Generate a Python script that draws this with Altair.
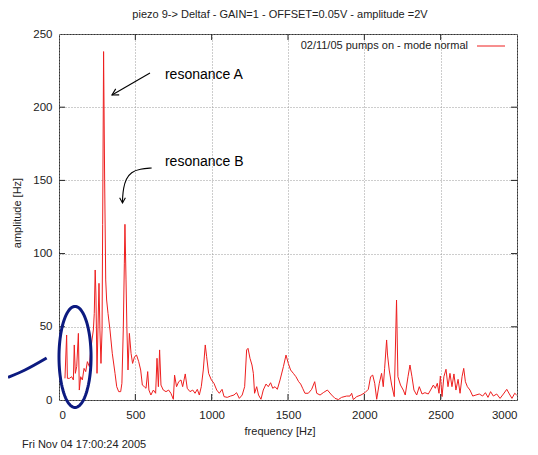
import altair as alt
import pandas as pd
import numpy as np

# ---- data ----
freq = [39, 50, 55, 68, 83, 94, 100, 107, 116, 127, 133, 142, 153, 164, 175, 186, 199, 207, 216, 225,
        231, 237, 242, 249, 255, 262, 268, 275, 282, 286, 292, 299, 306, 312, 321, 334, 349, 367, 378, 391,
        404, 412, 421, 428, 432, 439, 445, 452, 461, 472, 482, 495, 508, 522, 535, 546, 559, 570, 581, 589,
        602, 618, 633, 642, 651, 659, 668, 683, 701, 718, 733, 749, 757, 770, 784, 799, 810, 827, 840, 858,
        876, 891, 906, 919, 932, 945, 958, 967, 980, 998, 1015, 1033, 1050, 1068, 1081, 1102, 1124, 1146, 1163, 1181,
        1200, 1216, 1229, 1238, 1251, 1264, 1273, 1281, 1295, 1307, 1323, 1338, 1356, 1371, 1386, 1400, 1415, 1430, 1448, 1470,
        1487, 1502, 1517, 1535, 1552, 1570, 1583, 1596, 1611, 1633, 1655, 1675, 1688, 1710, 1731, 1758, 1786, 1808, 1830, 1851,
        1884, 1906, 1917, 1928, 1950, 1978, 2004, 2026, 2041, 2055, 2068, 2081, 2098, 2113, 2124, 2133, 2146, 2152, 2163, 2179,
        2196, 2211, 2220, 2237, 2255, 2268, 2286, 2299, 2312, 2325, 2343, 2360, 2378, 2397, 2419, 2434, 2452, 2465, 2478, 2489,
        2498, 2509, 2521, 2535, 2548, 2561, 2574, 2587, 2600, 2614, 2627, 2640, 2651, 2662, 2675, 2692, 2710, 2731, 2753, 2775,
        2793, 2810, 2827, 2845, 2867, 2889, 2911, 2933, 2950, 2967, 2985, 2998]
amp = [14.8, 44.4, 14.8, 14.8, 15.9, 13.7, 37.6, 18.2, 22.8, 45.5, 6.8, 15.9, 13.7, 21.6, 19.4, 26.2, 22.8, 33.0, 41.0, 47.8,
       59.2, 88.8, 71.7, 18.2, 47.8, 79.7, 47.8, 25.0, 47.8, 120.0, 238.0, 150.0, 82.0, 68.3, 59.2, 47.8, 31.9, 18.2, 9.1, 5.7,
       5.7, 11.4, 47.8, 93.0, 120.0, 82.0, 47.8, 20.5, 45.5, 31.9, 25.0, 29.6, 30.7, 26.2, 20.5, 10.2, 9.1, 8.0, 19.4, 6.8,
       3.4, 6.8, 4.6, 28.5, 9.1, 34.2, 10.2, 6.8, 5.7, 6.8, 4.6, 0.5, 17.0, 9.1, 12.5, 13.7, 9.1, 17.8, 8.0, 5.7,
       6.8, 4.6, 7.3, 3.4, 9.1, 20.5, 37.6, 29.6, 18.2, 13.7, 11.4, 6.8, 4.6, 7.3, 2.3, 1.8, 2.7, 3.4, 5.0, 1.1,
       3.4, 9.1, 34.2, 35.3, 28.5, 23.9, 18.2, 4.6, 9.1, 3.4, 0.5, 6.8, 10.9, 9.1, 11.8, 8.0, 9.1, 7.3, 13.7, 22.8,
       30.7, 25.0, 20.5, 18.2, 15.9, 12.5, 10.9, 8.0, 4.6, 4.6, 7.3, 12.5, 4.6, 3.4, 5.0, 6.8, 3.4, 1.1, 0.3, 1.8,
       2.7, 2.7, 4.6, 0.3, 2.3, 3.4, 5.0, 7.3, 15.9, 17.0, 11.4, 0.5, 11.4, 18.2, 9.1, 21.6, 41.0, 30.7, 20.5, 10.2,
       2.3, 68.3, 15.9, 10.2, 6.8, 3.4, 15.9, 23.9, 15.9, 6.8, 3.4, 9.1, 4.1, 5.0, 4.1, 6.8, 10.2, 8.0, 11.4, 4.6,
       16.4, 2.3, 15.9, 21.0, 9.1, 18.2, 9.1, 17.8, 6.8, 14.1, 4.6, 15.9, 21.6, 12.5, 9.1, 6.8, 2.7, 3.4, 4.1, 2.7,
       5.0, 1.8, 5.7, 2.7, 4.1, 1.1, 4.1, 7.3, 4.1, 1.1, 4.6, 3.4]
x_ticks = [0, 500, 1000, 1500, 2000, 2500, 3000]
y_ticks = [0, 50, 100, 150, 200, 250]

title_text = "piezo 9-> Deltaf - GAIN=1 - OFFSET=0.05V - amplitude =2V"
legend_text = "02/11/05 pumps on - mode normal"
x_title = "frequency [Hz]"
y_title = "amplitude [Hz]"
footer_text = "Fri Nov 04 17:00:24 2005"

# annotation (hand-drawn) elements, in data units
arrowA_f = [596, 347]
arrowA_a = [223.4, 208.3]
arrowB_f = [607, 531, 472, 439, 422, 416, 416]
arrowB_a = [158.5, 157.8, 155.7, 151.0, 144.8, 138.0, 134.6]
labels = ["resonance A", "resonance B"]
labels_f = [694, 694]
labels_a = [222.0, 162.6]
ellipse_center = (105, 29.4)
ellipse_radius = (105, 34.5)
stroke_f = [-334, -223, -81]
stroke_a = [15.4, 20.5, 28.7]

FONT = "Liberation Sans"
W, H = 458, 366

xs = alt.Scale(domain=[0, 3000], nice=False, zero=False)
ys = alt.Scale(domain=[0, 250], nice=False, zero=False)

df = pd.DataFrame({"freq": freq, "amp": amp})

xaxis = alt.Axis(values=x_ticks, title=None, grid=True, gridDash=[1, 2], gridColor="#9a9a9a",
                 ticks=False, domain=False, labelFontSize=11.5, labelFont=FONT, labelPadding=9,
                 labelColor="#222", format="d")
yaxis = alt.Axis(values=y_ticks, title=None, grid=True, gridDash=[1, 2], gridColor="#9a9a9a",
                 ticks=False, domain=False, labelFontSize=11.5, labelFont=FONT, labelPadding=7,
                 labelColor="#222", format="d")

line = alt.Chart(df).mark_line(color="#ee1f1f", strokeWidth=1, clip=True).encode(
    x=alt.X("freq:Q", scale=xs, axis=xaxis),
    y=alt.Y("amp:Q", scale=ys, axis=yaxis),
)

xt = pd.DataFrame({"t": x_ticks[1:-1]})
yt = pd.DataFrame({"t": y_ticks[1:-1]})
tick_b = alt.Chart(xt).mark_rule(color="#222").encode(
    x=alt.X("t:Q", scale=xs), y=alt.value(H), y2=alt.value(H - 6))
tick_t = alt.Chart(xt).mark_rule(color="#222").encode(
    x=alt.X("t:Q", scale=xs), y=alt.value(0), y2=alt.value(6))
tick_l = alt.Chart(yt).mark_rule(color="#222").encode(
    y=alt.Y("t:Q", scale=ys), x=alt.value(0), x2=alt.value(6))
tick_r = alt.Chart(yt).mark_rule(color="#222").encode(
    y=alt.Y("t:Q", scale=ys), x=alt.value(W - 6), x2=alt.value(W))

# annotations
dA = pd.DataFrame({"f": arrowA_f, "a": arrowA_a, "o": range(len(arrowA_f))})
dB = pd.DataFrame({"f": arrowB_f, "a": arrowB_a, "o": range(len(arrowB_f))})
arrA = alt.Chart(dA).mark_line(color="black", strokeWidth=1.1, clip=False).encode(
    x=alt.X("f:Q", scale=xs), y=alt.Y("a:Q", scale=ys), order="o:O")
arrB = alt.Chart(dB).mark_line(color="black", strokeWidth=1.1, clip=False, interpolate="basis").encode(
    x=alt.X("f:Q", scale=xs), y=alt.Y("a:Q", scale=ys), order="o:O")
chevron = "M -1 -0.55 L 0 0 L -1 0.55"
headA = alt.Chart(pd.DataFrame({"f": [arrowA_f[-1]], "a": [arrowA_a[-1]]})).mark_point(
    shape=chevron, filled=False, color="black", strokeWidth=1.1, size=160, angle=150, opacity=1).encode(
    x=alt.X("f:Q", scale=xs), y=alt.Y("a:Q", scale=ys))
headB = alt.Chart(pd.DataFrame({"f": [arrowB_f[-1]], "a": [arrowB_a[-1]]})).mark_point(
    shape=chevron, filled=False, color="black", strokeWidth=1.1, size=110, angle=90, opacity=1).encode(
    x=alt.X("f:Q", scale=xs), y=alt.Y("a:Q", scale=ys))
lab = alt.Chart(pd.DataFrame({"f": labels_f, "a": labels_a, "t": labels})).mark_text(
    align="left", baseline="middle", font=FONT, fontSize=14, color="black").encode(
    x=alt.X("f:Q", scale=xs), y=alt.Y("a:Q", scale=ys), text="t:N")

th = np.linspace(0, 2 * np.pi, 121)
dE = pd.DataFrame({
    "f": ellipse_center[0] + ellipse_radius[0] * np.cos(th),
    "a": ellipse_center[1] + ellipse_radius[1] * np.sin(th),
    "o": np.arange(len(th)),
})
ell = alt.Chart(dE).mark_line(color="#0c1a80", strokeWidth=3, clip=False).encode(
    x=alt.X("f:Q", scale=xs), y=alt.Y("a:Q", scale=ys), order="o:Q")
dS = pd.DataFrame({"f": stroke_f, "a": stroke_a, "o": range(len(stroke_f))})
stroke = alt.Chart(dS).mark_line(color="#0c1a80", strokeWidth=3, clip=False, interpolate="monotone").encode(
    x=alt.X("f:Q", scale=xs), y=alt.Y("a:Q", scale=ys), order="o:O")

# texts
one = pd.DataFrame({"k": [0]})
def txt(s, x, y, size=11, align="center", angle=0):
    return alt.Chart(one).mark_text(text=s, font=FONT, fontSize=size, align=align,
                                    baseline="middle", angle=angle, color="#222").encode(
        x=alt.value(x), y=alt.value(y))

title = txt(title_text, 221, -19)
xlab = txt(x_title, 221, 398)
ylab = txt(y_title, -41, 179, angle=270)
footer = txt(footer_text, -37, 411, align="left")
leg_t = txt(legend_text, 409, 12, align="right")
leg_l = alt.Chart(one).mark_rule(color="#ee1f1f", strokeWidth=1).encode(
    x=alt.value(418), x2=alt.value(446), y=alt.value(12))

chart = alt.layer(
    line, tick_b, tick_t, tick_l, tick_r, arrA, arrB, headA, headB, lab, ell, stroke,
    title, xlab, ylab, footer, leg_t, leg_l
).properties(
    width=W, height=H,
    autosize=alt.AutoSizeParams(type="none"),
    padding={"left": 51, "top": 26, "right": 10, "bottom": 52},
).configure_view(stroke="#333", strokeWidth=1)

chart.save("out.html", embed_options={"renderer": "svg", "actions": False})
